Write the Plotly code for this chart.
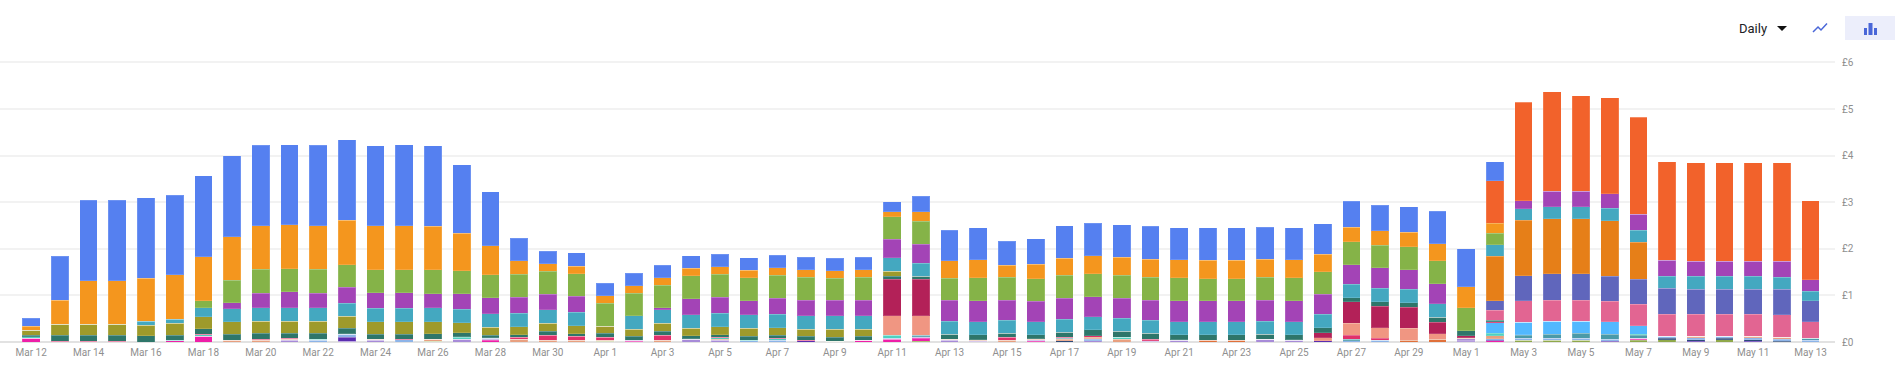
import plotly.graph_objects as go

months = [("Mar", 12, 31), ("Apr", 1, 30), ("May", 1, 13)]
days = [f"{m} {d}" for m, a, b in months for d in range(a, b + 1)]
tick_labels = days[::2]

lime = [0,0,0,0,0,0,0,0,0,0,
        0,0,0,0,.02,0,0,0,0,0,
        .02,0,0,0,0,0,0,0,.02,0,
        0,.02,0,0,0,0,0,0,0,0,
        0,0,0,0,0,0,0,0,0,0,
        .01,0,.04,.04,.04,0,.04,.05,0,.05,
        0,0,0]
magenta = [.08,0,0,0,0,.03,.12,0,0,0,
           0,0,0,0,0,0,.04,0,0,0,
           0,.02,0,0,0,0,0,0,0,.04,
           .06,.06,0,0,0,.02,0,0,0,0,
           0,0,0,0,0,0,0,0,0,0,
           0,.03,0,0,0,0,.02,0,0,0,
           0,0,0]
lavender = [0,0,0,0,0,0,0,0,0,.04,
            0,.02,.04,0,0,.06,.02,0,0,0,
            0,0,0,.06,.04,0,0,0,0,0,
            0,.02,.04,.02,0,.02,0,.03,0,.02,
            .04,0,0,.06,.04,0,0,0,0,0,
            .03,0,0,0,0,0,.02,0,0,0,
            0,0,0]
violet = [0,0,0,0,0,0,0,0,0,0,
          0,.08,0,0,0,0,0,0,0,0,
          0,.02,0,0,0,0,0,.03,0,0,
          0,0,0,0,0,0,0,0,0,0,
          0,0,0,0,0,.03,0,0,0,0,
          .02,.01,0,0,0,.02,0,0,.02,0,
          .02,0,0]
navy = [0,0,0,0,0,0,0,0,0,0,
        0,0,0,0,0,0,0,0,0,0,
        0,0,0,0,0,0,0,0,0,0,
        0,0,0,0,0,0,.03,0,0,0,
        0,0,0,0,0,0,0,0,0,0,
        0,0,0,0,0,0,0,.03,.03,.03,
        .03,.02,0]
light_blue = [0,0,0,0,0,0,0,0,0,0,
              .04,.07,0,.05,0,0,.02,0,0,0,
              0,0,0,0,0,.03,.04,0,0,0,
              .02,0,0,0,0,0,0,.03,0,0,
              0,0,0,0,0,0,.03,.04,0,0,
              0,.03,.04,.04,.04,.04,0,.04,.04,.04,
              .04,.04,.04]
tan = [0,0,0,0,0,0,0,.04,.04,.02,
       0,0,.02,0,.04,0,0,.06,.04,.04,
       .02,0,.04,0,.02,0,0,0,0,0,
       0,.01,.02,.02,.04,.02,.03,.02,.06,.01,
       0,0,0,0,0,0,0,0,0,0,
       .02,.06,0,0,0,0,0,0,.03,0,
       .03,.04,0]
burnt = [0,0,0,0,0,0,0,0,0,0,
         0,0,0,0,0,0,0,0,0,0,
         0,0,0,0,0,0,0,0,0,0,
         0,0,0,0,0,0,0,.02,0,0,
         0,.04,.04,0,0,0,0,0,.04,.06,
         0,0,0,0,0,0,0,0,0,0,
         0,0,0]
steel = [0,0,0,0,0,0,0,0,0,0,
         0,0,0,0,0,0,0,0,0,0,
         0,0,0,0,0,0,0,0,0,0,
         0,.04,0,0,0,0,.02,0,0,0,
         0,0,0,0,0,0,.03,0,0,0,
         0,0,.06,.09,.11,.11,.06,0,0,0,
         0,0,.04]
mint = [.03,0,0,0,0,.01,.04,0,0,0,
        .02,0,0,0,0,.04,0,0,0,0,
        0,0,0,0,.03,.01,.03,0,0,0,
        .06,0,0,0,0,0,0,0,.04,0,
        0,0,0,0,0,0,0,0,0,0,
        0,.06,.02,0,0,0,.03,0,0,0,
        0,0,0]
sky = [0,0,0,0,0,0,0,0,0,0,
       0,0,0,0,0,0,0,0,0,0,
       0,0,0,0,0,0,0,0,0,0,
       0,0,0,0,0,0,0,0,0,0,
       0,0,0,0,0,0,0,0,0,0,
       0,.22,.26,.28,.26,.26,.18,0,0,0,
       0,0,0]
red = [0,.02,.02,.02,0,0,.01,0,.02,.02,
       0,.01,0,.01,0,.01,.01,.04,.10,.08,
       .06,0,.10,.01,.01,0,.01,.01,0,0,
       .01,0,0,.01,.06,.01,.02,.03,0,.03,
       .01,0,0,0,.01,0,.09,.04,0,0,
       .01,.02,0,0,0,0,0,0,0,0,
       0,0,0]
salmon = [0,0,0,0,0,0,0,0,0,0,
          0,0,0,0,0,0,0,0,0,0,
          0,0,0,0,0,0,0,0,0,0,
          .41,.41,0,0,0,0,0,0,0,0,
          0,0,0,0,0,.06,.25,.23,.25,.12,
          0,0,0,0,0,0,0,0,0,0,
          0,0,0]
crimson = [0,0,0,0,0,0,0,0,0,0,
           0,0,0,0,0,0,0,0,0,0,
           0,0,0,0,0,0,0,0,0,0,
           .79,.79,0,0,0,0,0,0,0,0,
           0,0,0,0,0,.11,.46,.46,.46,.24,
           .04,0,0,0,0,0,0,0,0,0,
           0,0,0]
dark_teal = [.04,.13,.13,.13,.13,.11,.11,.13,.13,.11,
             .13,.11,.11,.11,.12,.09,.06,.06,.09,.06,
             .09,.08,.09,.06,.06,.08,.06,.08,.08,.08,
             .06,.06,.11,.11,.09,.09,.11,.13,.13,.13,
             .11,.12,.12,.11,.11,.11,.09,.09,.09,.11,
             .11,.04,0,0,0,0,0,0,0,0,
             0,0,0]
olive = [.10,.23,.23,.23,.23,.25,.26,.26,.26,.26,
         .26,.26,.26,.26,.26,.21,.17,.17,.17,.17,
         .15,.15,.17,.17,.17,.17,.17,.15,.17,.15,
         .11,0,0,0,0,0,0,0,0,0,
         0,0,0,0,0,0,0,0,0,0,
         0,0,0,0,0,0,0,0,0,0,
         0,0,0]
rose = [0,0,0,0,0,0,0,0,0,0,
        0,0,0,0,0,0,0,0,0,0,
        0,0,0,0,0,0,0,0,0,0,
        0,0,0,0,0,0,0,0,0,0,
        0,0,0,0,0,0,0,0,0,0,
        0,.21,.46,.45,.45,.44,.46,.48,.48,.48,
        .48,.48,.36]
indigo = [0,0,0,0,0,0,0,0,0,0,
          0,0,0,0,0,0,0,0,0,0,
          0,0,0,0,0,0,0,0,0,0,
          0,0,0,0,0,0,0,0,0,0,
          0,0,0,0,0,0,0,0,0,0,
          0,.21,.54,.56,.56,.54,.54,.55,.53,.53,
          .53,.55,.44]
dark_orange = [0,0,0,0,0,0,0,0,0,0,
               0,0,0,0,0,0,0,0,0,0,
               0,0,0,0,0,0,0,0,0,0,
               0,0,0,0,0,0,0,0,0,0,
               0,0,0,0,0,0,0,0,0,0,
               0,.95,1.19,1.19,1.19,1.19,.79,0,0,0,
               0,0,0]
teal_blue = [0,0,0,0,.09,.09,.19,.28,.29,.29,
             .29,.28,.29,.29,.29,.29,.29,.29,.29,.29,
             0,.29,.29,.29,.29,.29,.29,.29,.29,.29,
             .29,.28,.28,.28,.28,.28,.28,.28,.28,.28,
             .28,.28,.28,.28,.28,.29,.29,.29,.29,.29,
             0,.25,.25,.25,.25,.27,.26,.26,.28,.28,
             .28,.26,.21]
purple = [0,0,0,0,0,0,0,.13,.31,.34,
          .31,.34,.34,.34,.31,.34,.34,.34,.34,.34,
          0,0,.04,.34,.34,.31,.34,.34,.34,.34,
          .39,.41,.45,.45,.43,.43,.45,.43,.43,.43,
          .45,.45,.45,.45,.45,.42,.42,.44,.42,.43,
          0,0,.17,.34,.34,.31,.34,.34,.32,.32,
          .32,.34,.25]
green = [0,0,0,0,0,0,.16,.49,.51,.49,
         .51,.49,.49,.49,.51,.49,.49,.49,.49,.49,
         .49,.49,.49,.49,.49,.49,.49,.49,.47,.49,
         .49,.49,.47,.49,.49,.49,.49,.49,.49,.49,
         .49,.47,.47,.49,.49,.49,.49,.49,.49,.49,
         .49,.24,0,0,0,0,0,0,0,0,
         0,0,0]
orange = [.09,.52,.93,.93,.92,.95,.94,.93,.93,.95,
          .93,.95,.95,.95,.93,.80,.63,.29,.16,.16,
          .16,.16,.16,.16,.16,.16,.16,.16,.16,.16,
          .11,.20,.37,.39,.26,.31,.37,.39,.39,.39,
          .39,.39,.39,.39,.39,.37,.31,.31,.31,.37,
          .46,.22,0,0,0,0,0,0,0,0,
          0,0,0]
red_orange = [0,0,0,0,0,0,0,0,0,0,
              0,0,0,0,0,0,0,0,0,0,
              0,0,0,0,0,0,0,0,0,0,
              0,0,0,0,0,0,0,0,0,0,
              0,0,0,0,0,0,0,0,0,0,
              0,.91,2.12,2.13,2.04,2.06,2.08,2.12,2.12,2.12,
              2.12,2.12,1.69]
blue = [.17,.94,1.73,1.73,1.73,1.71,1.74,1.74,1.73,1.71,
        1.73,1.73,1.71,1.73,1.73,1.47,1.15,.49,.27,.29,
        .27,.27,.27,.27,.27,.27,.27,.27,.27,.27,
        .21,.34,.66,.68,.51,.55,.70,.70,.70,.70,
        .68,.70,.70,.68,.68,.66,.56,.55,.55,.70,
        .81,.41,0,0,0,0,0,0,0,0,
        0,0,0]

series = [
    ("lime", lime, "#8FA84A"), ("magenta", magenta, "#EE1FA8"),
    ("lavender", lavender, "#A78BD8"), ("violet", violet, "#5A2DB0"),
    ("navy", navy, "#2B4A7A"), ("light blue", light_blue, "#8DB4E8"),
    ("tan", tan, "#E8A080"), ("burnt", burnt, "#E0703A"),
    ("steel", steel, "#4A9AA8"), ("mint", mint, "#4FD0C0"),
    ("sky", sky, "#52B8FF"), ("red", red, "#E0306A"),
    ("salmon", salmon, "#F09682"), ("crimson", crimson, "#B32158"),
    ("dark teal", dark_teal, "#2E766A"), ("olive", olive, "#9E9A2B"),
    ("rose", rose, "#E26592"), ("indigo", indigo, "#6066BC"),
    ("dark orange", dark_orange, "#E67F18"), ("teal blue", teal_blue, "#44A8C0"),
    ("purple", purple, "#A344B6"), ("green", green, "#85B348"),
    ("orange", orange, "#F4961E"), ("red orange", red_orange, "#F2622B"),
    ("blue", blue, "#5580F0"),
]

fig = go.Figure()
for name, values, color in series:
    assert len(values) == len(days), name
    fig.add_bar(x=days, y=values, name=name,
                marker=dict(color=color, line=dict(color="rgba(255,255,255,0.15)", width=1)))

W, H, L, R, T, B = 1901, 385, 0, 1835, 61, 342


def px(x):
    return (x - L) / (R - L)


def py(y):
    return (B - y) / (B - T)


def rect(x0, y0, x1, y1, color):
    return dict(type="rect", xref="paper", yref="paper", layer="above", line_width=0, fillcolor=color,
                x0=px(x0), x1=px(x1), y0=py(y1), y1=py(y0))


def path(points, close=True, **kw):
    d = " ".join(("M" if i == 0 else "L") + f"{px(a):.5f},{py(b):.5f}" for i, (a, b) in enumerate(points))
    return dict(type="path", xref="paper", yref="paper", layer="above", path=d + (" Z" if close else ""), **kw)


icon = "#4A67D8"
shapes = [
    rect(1845, 16, 1895, 40, "#ECEEFB"),
    rect(1864, 28, 1867, 35, icon), rect(1868.5, 23, 1872.5, 35, icon), rect(1874, 28, 1877, 35, icon),
    path([(1777, 26), (1787, 26), (1782, 31)], fillcolor="#111111", line_width=0),
    path([(1813, 32), (1818, 27), (1821, 30), (1827, 23.5)], close=False, line=dict(color=icon, width=1.5)),
]

fig.update_layout(
    width=W, height=H, barmode="stack", bargap=0.383, showlegend=False, hovermode=False,
    plot_bgcolor="white", paper_bgcolor="white",
    margin=dict(l=L, r=W - R, t=T, b=H - B, autoexpand=False),
    font=dict(family="Roboto, Arial, sans-serif", size=10, color="#8F8F8F"),
    shapes=shapes,
    annotations=[dict(text="Daily", xref="paper", yref="paper", x=px(1737), y=py(28), xanchor="left",
                      yanchor="middle", showarrow=False, font=dict(size=13, color="#202124"))],
    xaxis=dict(type="category", categoryorder="array", categoryarray=days, tickmode="array",
               tickvals=tick_labels, ticktext=tick_labels, tickangle=0, range=[-1.087, 62.85],
               showgrid=False, ticks="", showline=False, zeroline=False, ticklabelstandoff=3),
    yaxis=dict(side="right", range=[0, 6.03], tickmode="array", tickvals=[0, 1, 2, 3, 4, 5, 6],
               ticktext=["£0", "£1", "£2", "£3", "£4", "£5", "£6"], gridcolor="#F2F2F2", gridwidth=1.5,
               zeroline=True, zerolinecolor="#E2E2E2", zerolinewidth=2, showline=False, ticks="",
               ticklabelstandoff=6),
)

fig.write_html("out.html", config=dict(displayModeBar=False, responsive=False),
               post_script="document.body.style.margin='0';document.documentElement.style.overflow='hidden';")
